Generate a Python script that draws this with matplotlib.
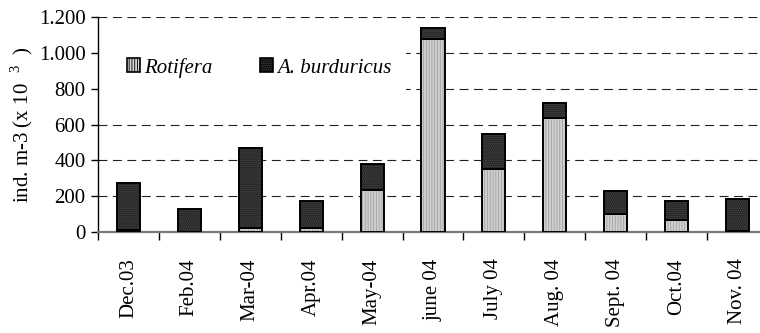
import matplotlib
matplotlib.use("Agg")
import matplotlib.pyplot as plt
from matplotlib.patches import Rectangle, Patch
import numpy as np

categories = ["Dec.03", "Feb.04", "Mar-04", "Apr.04", "May-04", "june 04",
              "July 04", "Aug. 04", "Sept. 04", "Oct.04", "Nov. 04"]
rotifera = [10, 2, 22, 22, 237, 1079, 350, 636, 99, 65, 8]
burduricus_total = [273, 127, 469, 171, 379, 1141, 547, 720, 229, 171, 182]
burduricus = [t - r for t, r in zip(burduricus_total, rotifera)]
yticks = [0, 200, 400, 600, 800, 1000, 1200]
ytick_labels = ["0", "200", "400", "600", "800", "1.000", "1.200"]

plt.rcParams['font.family'] = ['Liberation Serif', 'DejaVu Serif']
plt.rcParams['hatch.linewidth'] = 0.6
plt.rcParams['mathtext.fontset'] = 'custom'
plt.rcParams['mathtext.rm'] = 'Liberation Serif'

W, H = 760, 333
fig = plt.figure(figsize=(W / 100, H / 100), dpi=100)
ax = fig.add_axes([98 / W, (H - 232) / H, (768 - 98) / W, 215 / H])

x = np.arange(len(categories))
bw = 0.38
rot_face, rot_hatch = '#d0d0d0', '#a0a0a0'
bur_face, bur_hatch = '#282828', '#484848'

ax.bar(x, rotifera, bw, color=rot_face, edgecolor=rot_hatch, hatch='||||||', linewidth=0, zorder=3)
ax.bar(x, burduricus, bw, bottom=rotifera, color=bur_face, edgecolor=bur_hatch, hatch='........', linewidth=0, zorder=3)
ax.bar(x, rotifera, bw, fill=False, edgecolor='black', linewidth=1.4, zorder=4)
ax.bar(x, burduricus, bw, bottom=rotifera, fill=False, edgecolor='black', linewidth=1.4, zorder=4)

ax.set_xlim(-0.5, len(categories) - 0.5)
ax.set_ylim(0, 1200)
ax.set_yticks(yticks)
ax.set_yticklabels(ytick_labels)
for yv in yticks[1:]:
    ax.axhline(yv, color='#222222', lw=0.8, ls=(0, (8, 5)), zorder=1)

ax.set_xticks(x)
ax.set_xticklabels(categories, rotation=90, va='top', ha='center')
ax.set_xticks(np.arange(len(categories) + 1) - 0.5, minor=True)
ax.tick_params(axis='x', which='major', length=0, pad=19, labelsize=15)
ax.tick_params(axis='x', which='minor', length=6, width=1, direction='out')
ax.tick_params(axis='y', length=5, width=1, direction='out', pad=4, labelsize=15)

for s in ['top', 'right']:
    ax.spines[s].set_visible(False)
ax.spines['left'].set_linewidth(1.0)
ax.spines['bottom'].set_color('#7a7a7a')
ax.spines['bottom'].set_linewidth(1.6)

ax.set_ylabel("ind. m-3 (x 10  $^{3}$  )", fontsize=15, labelpad=3)

ax.add_patch(Rectangle((0, 0.628), 0.46, 0.242, transform=ax.transAxes,
                       facecolor='white', edgecolor='none', zorder=2))

handles = [Patch(facecolor=rot_face, edgecolor='black', hatch='||||||', linewidth=1.2),
           Patch(facecolor=bur_face, edgecolor='black', hatch='........', linewidth=1.2)]
leg = fig.legend(handles, ["Rotifera", "A. burduricus"], loc='center left',
                 bbox_to_anchor=(0.167, 0.797), ncol=2, frameon=False,
                 prop={'family': 'Liberation Serif', 'style': 'italic', 'size': 15},
                 handlelength=0.62, handleheight=0.62, handletextpad=0.2,
                 columnspacing=2.3, borderpad=0, borderaxespad=0)

fig.savefig("out.png", dpi=100)
